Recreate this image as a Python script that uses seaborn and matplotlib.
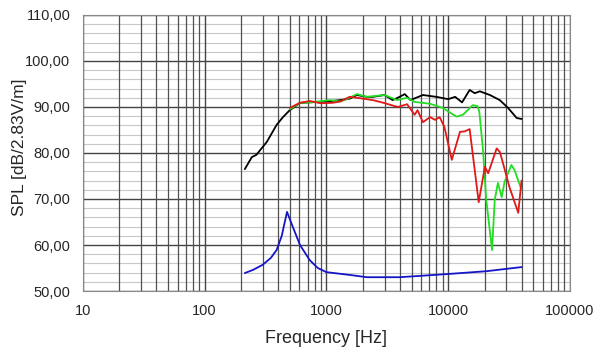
import pandas as pd
import matplotlib.pyplot as plt
import seaborn as sns
import numpy as np
from matplotlib.ticker import FixedLocator, FuncFormatter, NullFormatter

# response curves (Hz, dB)
black_f = [214, 244, 266, 324, 390, 440, 500, 607, 730, 1000, 1300, 1550, 1780, 2150, 2400,
           3000, 3500, 3850, 4400, 4900, 6200, 8000, 10000, 11400, 13000, 15000, 16500,
           18200, 22000, 26500, 31000, 36500, 40000]
black_db = [76.5, 79.1, 79.6, 82.4, 86.1, 87.8, 89.3, 90.9, 91.0, 91.2, 91.5, 91.8, 92.6, 92.2, 92.2,
            92.6, 91.5, 92.0, 92.8, 91.5, 92.6, 92.2, 91.7, 92.2, 91.0, 93.7, 93.0,
            93.4, 92.6, 91.5, 89.8, 87.6, 87.4]

green_f = [500, 607, 730, 1070, 1300, 1470, 1780, 2150, 3000, 3800, 4600, 5300, 7100, 9000,
           11700, 13200, 15900, 17400, 18000, 19300, 20500, 22900, 24100, 25600, 27500,
           29000, 33000, 35000, 40000]
green_db = [89.5, 90.9, 91.0, 91.5, 91.2, 91.7, 92.8, 92.2, 92.6, 91.5, 92.0, 91.1, 90.7, 89.8,
            87.9, 88.3, 90.4, 90.2, 89.0, 80.7, 70.0, 58.9, 69.8, 73.5, 70.4,
            73.7, 77.4, 76.3, 72.0]

red_f = [500, 607, 730, 900, 1120, 1300, 1550, 1780, 2400, 2950, 3850, 4600, 5300, 5600, 6200,
         7100, 7800, 8500, 9300, 10700, 12500, 13700, 15000, 17800, 20000, 21300, 25000,
         26600, 32000, 37600, 40000]
red_db = [89.8, 90.9, 91.3, 90.8, 90.9, 91.2, 92.2, 92.0, 91.5, 90.9, 90.0, 90.6, 88.3, 89.3, 86.7,
          87.8, 87.2, 87.8, 85.7, 78.5, 84.6, 84.7, 85.2, 69.3, 77.0, 75.6, 81.0,
          80.2, 72.4, 67.0, 74.0]

blue_f = [214, 250, 300, 350, 390, 430, 475, 520, 607, 730, 850, 1000, 1550, 2150, 4000,
          10000, 20500, 40000]
blue_db = [53.9, 54.6, 55.7, 57.2, 58.9, 62.0, 67.2, 64.5, 60.0, 56.7, 55.0, 54.1, 53.5, 53.0, 53.0,
           53.7, 54.3, 55.2]

y_ticks = [50, 60, 70, 80, 90, 100, 110]
x_ticks = [10, 100, 1000, 10000, 100000]

sns.set_style("white")
plt.rcParams['font.family'] = ['Liberation Sans', 'DejaVu Sans']

fig = plt.figure(figsize=(6, 3.53), dpi=100)
ax = fig.add_axes([0.138, 0.1756, 0.812, 0.782])

for f, db, c in [(black_f, black_db, '#000000'), (green_f, green_db, '#22dd22'),
                 (red_f, red_db, '#e01818'), (blue_f, blue_db, '#1515c8')]:
    df = pd.DataFrame({'freq': f, 'spl': db})
    sns.lineplot(data=df, x='freq', y='spl', color=c, lw=1.3, ax=ax, sort=False)

ax.set_xscale('log')
ax.set_xlim(10, 100000)
ax.set_ylim(50, 110)
ax.xaxis.set_major_locator(FixedLocator(x_ticks))
ax.xaxis.set_major_formatter(FuncFormatter(lambda v, p: f'{int(v)}'))
minors = [m * 10 ** e for e in range(1, 5) for m in range(2, 10)]
ax.xaxis.set_minor_locator(FixedLocator(minors))
ax.xaxis.set_minor_formatter(NullFormatter())
ax.yaxis.set_major_locator(FixedLocator(y_ticks))
ax.yaxis.set_major_formatter(FuncFormatter(lambda v, p: f'{v:.2f}'.replace('.', ',')))
ax.yaxis.set_minor_locator(FixedLocator(np.arange(50, 110, 2)))

ax.grid(which='major', axis='both', color='#444444', lw=1.0)
ax.grid(which='minor', axis='x', color='#505050', lw=0.9)
ax.grid(which='minor', axis='y', color='#c8c8c8', lw=0.8)
ax.set_axisbelow(True)
# light horizontal lines go under the vertical ones
ax.yaxis.set_zorder(0.4)
ax.xaxis.set_zorder(0.6)
for s in ax.spines.values():
    s.set_color('#888888')
ax.tick_params(axis='both', which='major', labelsize=10.5, length=4, color='#888888', pad=5)
ax.tick_params(axis='y', which='minor', length=3, color='#888888')
ax.tick_params(axis='x', which='minor', length=0)

ax.set_xlabel('Frequency [Hz]', fontsize=13, labelpad=9)
ax.set_ylabel('SPL [dB/2.83V/m]', fontsize=12.5, labelpad=8)
ax.yaxis.set_label_coords(-0.115, 0.52)

fig.savefig('out.png', dpi=100)
